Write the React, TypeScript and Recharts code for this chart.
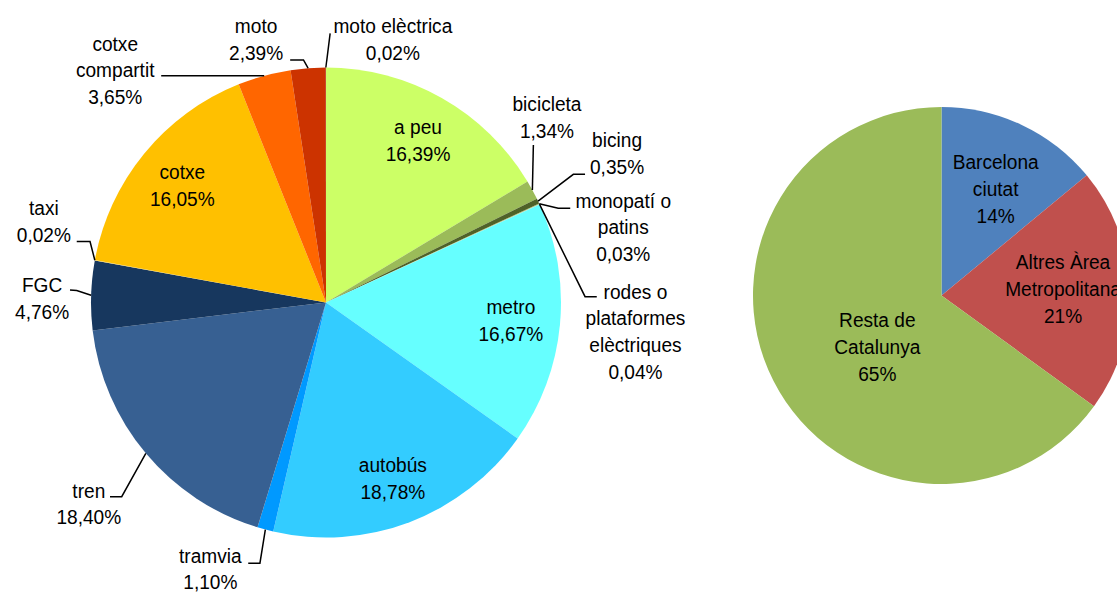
import { Cell, Pie, PieChart } from "recharts";

// mode share of trips (left pie), clockwise from 12 o'clock
const modeNames = [
  "a peu",
  "bicicleta",
  "bicing",
  "monopatí o patins",
  "rodes o plataformes elèctriques",
  "metro",
  "autobús",
  "tramvia",
  "tren",
  "FGC",
  "taxi",
  "cotxe",
  "cotxe compartit",
  "moto",
  "moto elèctrica",
];
const modeShares = [
  16.39, 1.34, 0.35, 0.03, 0.04, 16.67, 18.78, 1.1, 18.4, 4.76, 0.02, 16.05,
  3.65, 2.39, 0.02,
];
const modeLabels = [
  ["a peu"],
  ["bicicleta"],
  ["bicing"],
  ["monopatí o", "patins"],
  ["rodes o", "plataformes", "elèctriques"],
  ["metro"],
  ["autobús"],
  ["tramvia"],
  ["tren"],
  ["FGC"],
  ["taxi"],
  ["cotxe"],
  ["cotxe", "compartit"],
  ["moto"],
  ["moto elèctrica"],
];
const modeColors = [
  "#CCFF66",
  "#9BBB59",
  "#4F6228",
  "#77933C",
  "#C3D69B",
  "#66FFFF",
  "#33CCFF",
  "#0099FF",
  "#376092",
  "#17375E",
  "#FFD966",
  "#FFC000",
  "#FF6600",
  "#CC3300",
  "#990000",
];

// origin of the respondents (right pie)
const regionNames = ["Barcelona ciutat", "Altres Àrea Metropolitana", "Resta de Catalunya"];
const regionShares = [14, 21, 65];
const regionLabels = [
  ["Barcelona", "ciutat"],
  ["Altres Àrea", "Metropolitana"],
  ["Resta de", "Catalunya"],
];
const regionColors = ["#4F81BD", "#C0504D", "#9BBB59"];

const modeData = modeNames.map((name, i) => ({ name, value: modeShares[i], lines: modeLabels[i] }));
const regionData = regionNames.map((name, i) => ({ name, value: regionShares[i], lines: regionLabels[i] }));

// label placement (Excel labels were dragged by hand): offsets from the slice's outer edge
type Placement = { inside?: number; nudge?: [number, number]; text?: [number, number]; line?: [number, number][] };
const modePlacement: Record<string, Placement> = {
  "a peu": { inside: 0.795 },
  metro: { inside: 0.79 },
  autobús: { inside: 0.8 },
  cotxe: { inside: 0.79 },
  bicicleta: { text: [14.6, -73], line: [[1, -45]] },
  bicing: { text: [79, -48], line: [[35.3, -26.9], [47, -26.9]] },
  "monopatí o patins": { text: [84, 23], line: [[19, 4.6], [31, 4.6]] },
  "rodes o plataformes elèctriques": { text: [96, 127], line: [[45.6, 92.5], [57.3, 92.5]] },
  tramvia: { text: [-55, 39], line: [[-5.4, 33.7], [-17.1, 33.7]] },
  tren: { text: [-57, 50], line: [[-24.1, 43.3], [-35.8, 43.3]] },
  FGC: { text: [-49, 3], line: [[-14.4, -4.7], [-21.1, -5.4]] },
  taxi: { text: [-51, -39], line: [[-4.8, -18.7], [-18.1, -18.7]] },
  "cotxe compartit": { text: [-149, -6], line: [[-103, 0]] },
  moto: { text: [-52, -29], line: [[-4.6, -8.2], [-17.9, -8.2]] },
  "moto elèctrica": { text: [67, -28.5], line: [[4.3, -34.2]] },
};
const regionPlacement: Record<string, Placement> = {
  "Barcelona ciutat": { inside: 0.65, nudge: [2, 4] },
  "Altres Àrea Metropolitana": { inside: 0.645, nudge: [0, -3] },
  "Resta de Catalunya": { inside: 0.65, nudge: [45, -4.5] },
};

const FONT = "'Liberation Sans', Arial, sans-serif";
const FS = 21;
const LH = 26.7;
const SX = 0.91;
const RAD = Math.PI / 180;

const Label = ({ x, y, lines }: { x: number; y: number; lines: string[] }) => (
  <text
    transform={`translate(${x},${y}) scale(${SX},1)`}
    textAnchor="middle"
    fontFamily={FONT}
    fontSize={FS}
    fill="#000"
  >
    {lines.map((l, i) => (
      <tspan key={i} x={0} y={(i - (lines.length - 1) / 2) * LH + 7.5}>
        {l}
      </tspan>
    ))}
  </text>
);

const makeLabel =
  (placement: Record<string, Placement>, fmt: (v: number) => string) => (props: any) => {
    const { cx, cy, midAngle, outerRadius, payload } = props;
    const p = placement[payload.name] || {};
    const cos = Math.cos(-midAngle * RAD);
    const sin = Math.sin(-midAngle * RAD);
    const lines = [...payload.lines, fmt(payload.value)];
    if (p.inside) {
      const r = outerRadius * p.inside;
      const [nx, ny] = p.nudge || [0, 0];
      return <Label x={cx + r * cos + nx} y={cy + r * sin + ny} lines={lines} />;
    }
    const ex = cx + outerRadius * cos;
    const ey = cy + outerRadius * sin;
    const pts = [[0, 0], ...(p.line || [])].map(([dx, dy]) => `${ex + dx},${ey + dy}`).join(" ");
    const [tx, ty] = p.text || [0, 0];
    return (
      <g>
        <polyline points={pts} fill="none" stroke="#000" strokeWidth={1.5} />
        <Label x={ex + tx} y={ey + ty} lines={lines} />
      </g>
    );
  };

const pct2 = (v: number) => `${v.toFixed(2).replace(".", ",")}%`;
const pct0 = (v: number) => `${v}%`;

export default function App() {
  return (
    <div style={{ position: "absolute", left: 0, top: 0, width: 1117, height: 592, background: "#fff" }}>
      <PieChart width={1117} height={592} margin={{ top: 0, right: 0, bottom: 0, left: 0 }}>
        <Pie
          data={modeData}
          dataKey="value"
          nameKey="name"
          cx={326}
          cy={302.5}
          outerRadius={235}
          startAngle={90}
          endAngle={-270}
          stroke="none"
          labelLine={false}
          label={makeLabel(modePlacement, pct2)}
          isAnimationActive={false}
        >
          {modeData.map((d, i) => (
            <Cell key={d.name} fill={modeColors[i]} />
          ))}
        </Pie>
        <Pie
          data={regionData}
          dataKey="value"
          nameKey="name"
          cx={941.5}
          cy={295.5}
          outerRadius={188.5}
          startAngle={90}
          endAngle={-270}
          stroke="none"
          labelLine={false}
          label={makeLabel(regionPlacement, pct0)}
          isAnimationActive={false}
        >
          {regionData.map((d, i) => (
            <Cell key={d.name} fill={regionColors[i]} />
          ))}
        </Pie>
      </PieChart>
    </div>
  );
}
